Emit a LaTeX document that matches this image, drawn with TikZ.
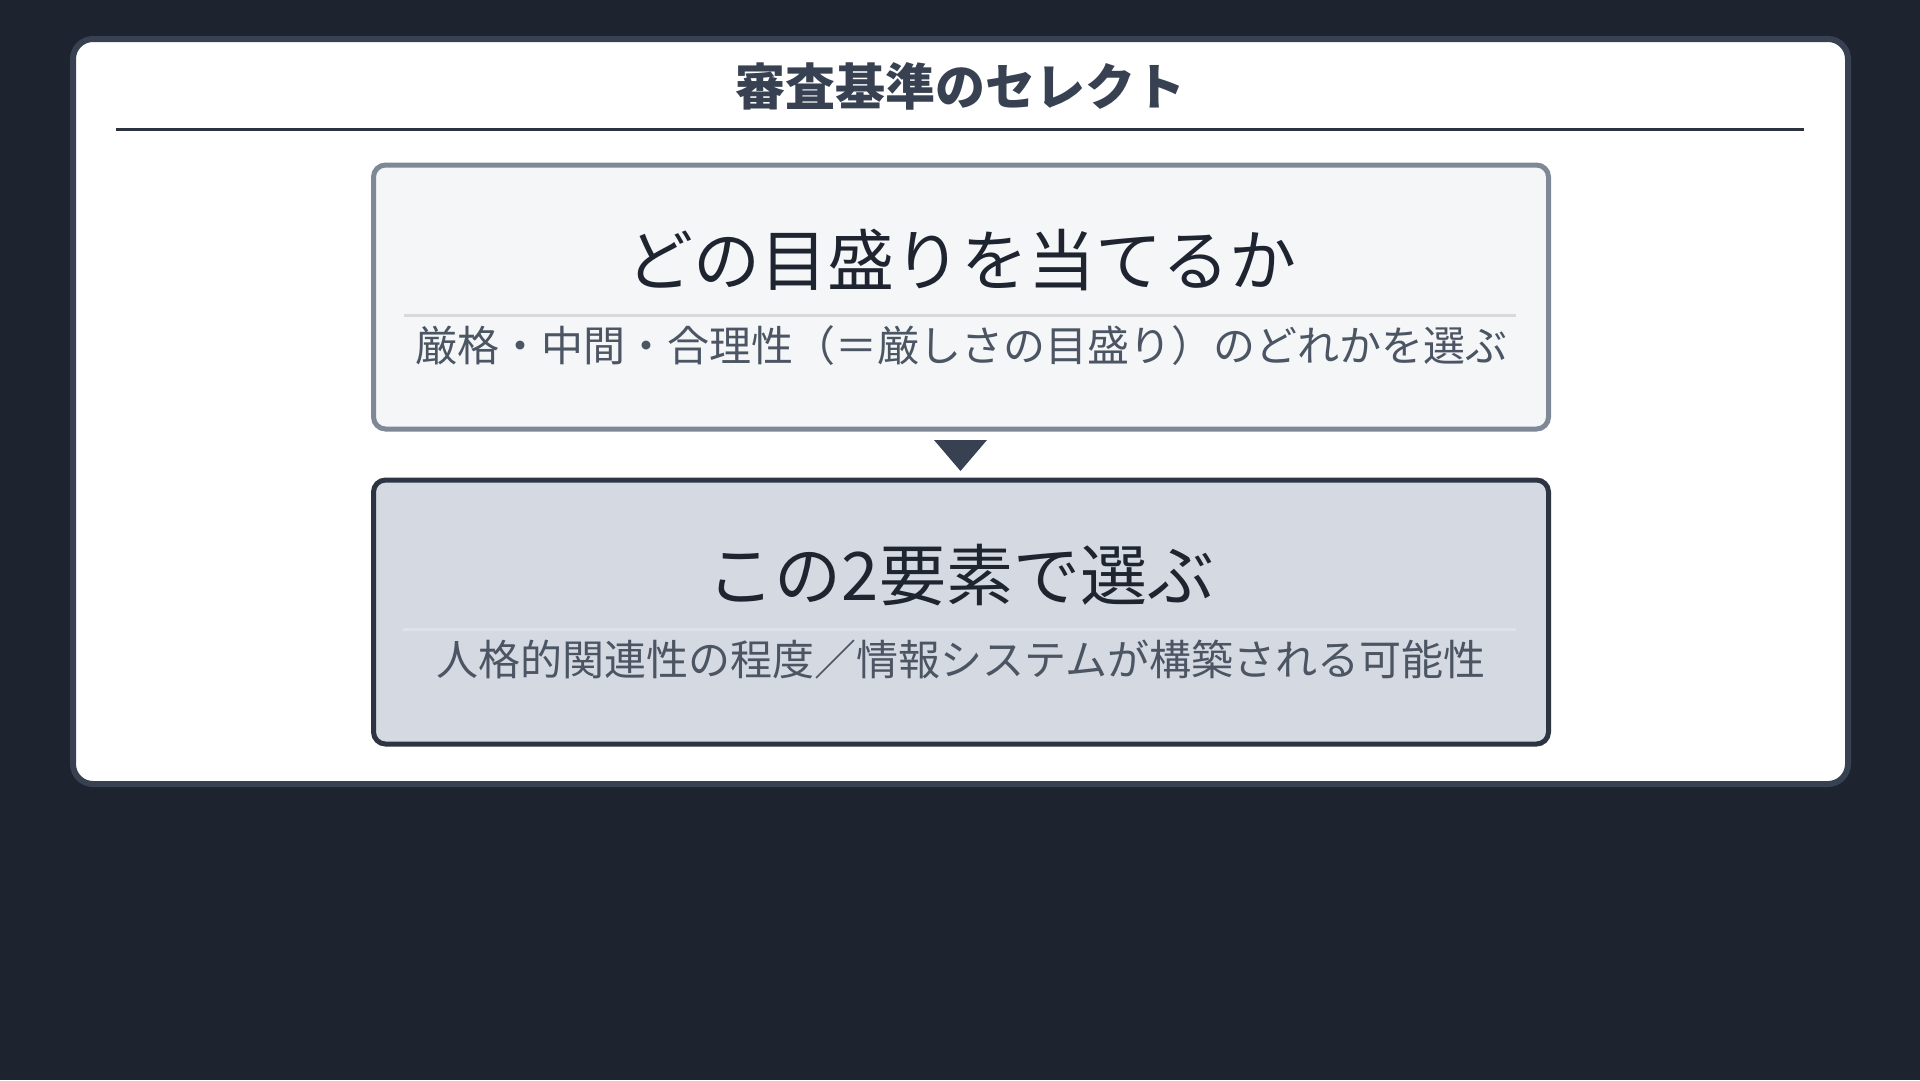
\documentclass[tikz,border=0pt]{standalone}
\usepackage{fontspec}
\usepackage{tikz}
\newfontfamily\jpfont{Noto Sans CJK JP}
\definecolor{bgcol}{HTML}{1E242F}
\definecolor{cardline}{HTML}{374151}
\definecolor{rulecol}{HTML}{2B3340}
\definecolor{onefill}{HTML}{F5F6F8}
\definecolor{oneline}{HTML}{7F8896}
\definecolor{twofill}{HTML}{D5D9E1}
\definecolor{twoline}{HTML}{2D3442}
\definecolor{headcol}{HTML}{1F2530}
\definecolor{subcol}{HTML}{4B5563}
\tikzset{every picture/.append style={x=1pt, y=-1pt}}
\tikzset{
    box/.style={rectangle, rounded corners=12pt, line width=5pt, inner sep=0pt,
    	minimum width=1175pt, minimum height=264pt},
    headtext/.style={inner sep=0pt, text=headcol, font=\jpfont\fontsize{67}{80}\selectfont},
    subtext/.style={inner sep=0pt, text=subcol, font=\jpfont\fontsize{42}{50}\selectfont}
}

\begin{document}
\begin{tikzpicture}
  \fill[bgcol] (0,0) rectangle (1920,1080);
  \node (card) [rectangle, rounded corners=20pt, line width=6pt, draw=cardline, fill=white,
    minimum width=1775pt, minimum height=745pt, inner sep=0pt] at (960.5,411.5) {};
  \node (title) [inner sep=0pt, text=cardline, font=\jpfont\bfseries\fontsize{50}{60}\selectfont]
    at (960,86) {審査基準のセレクト};
  \draw[rulecol, line width=3pt] (116,129.5) -- (1804,129.5);

  \node (b_1) [box, fill=onefill, draw=oneline] at (961,297) {};
  \node (h_1) [headtext] at (961,260) {どの目盛りを当てるか};
  \draw[color=black!15, line width=2.5pt] (404,315.3) -- (1516,315.3);
  \node (s_1) [subtext] at (961,345.5) {厳格・中間・合理性（＝厳しさの目盛り）のどれかを選ぶ};

  \node (b_2) [box, fill=twofill, draw=twoline] at (961,612) {};
  \node (h_2) [headtext] at (961,575) {この2要素で選ぶ};
  \draw[color=white!25!twofill, line width=2.5pt] (403,629.5) -- (1516,629.5);
  \node (s_2) [subtext] at (961,660) {人格的関連性の程度／情報システムが構築される可能性};

  \fill[cardline] (934,440) -- (987,440) -- (960.5,471) -- cycle;
\end{tikzpicture}
\end{document}
